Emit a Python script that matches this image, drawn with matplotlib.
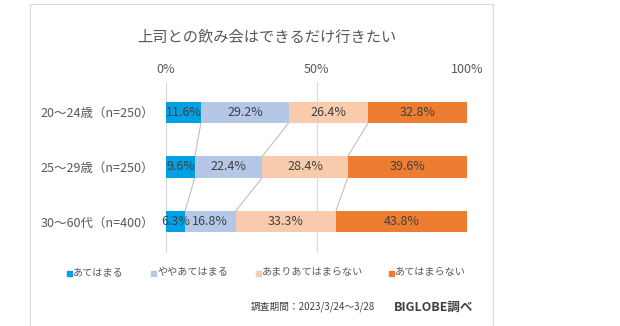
import numpy as np
import matplotlib.pyplot as plt
from matplotlib.patches import Rectangle

plt.rcParams['font.family'] = ['Noto Sans CJK JP', 'DejaVu Sans']

title = "上司との飲み会はできるだけ行きたい"
groups = ["20～24歳（n=250）", "25～29歳（n=250）", "30～60代（n=400）"]
answers = ["あてはまる", "ややあてはまる", "あまりあてはまらない", "あてはまらない"]
values = [
    [11.6, 29.2, 26.4, 32.8],
    [9.6, 22.4, 28.4, 39.6],
    [6.3, 16.8, 33.3, 43.8],
]
colors = ["#00A0E4", "#B4C7E7", "#F8CBAD", "#ED7D31"]
footer = "調査期間：2023/3/24～3/28"
source = "BIGLOBE調べ"

W, H = 620, 326
fig = plt.figure(figsize=(W / 100, H / 100), dpi=100)

# outer frame
fig.patches.append(Rectangle((30 / W, -0.01), (493 - 30) / W, (H - 4) / H + 0.01,
                             transform=fig.transFigure, fill=False,
                             edgecolor="#D9D9D9", linewidth=0.8))

ax = fig.add_axes([166 / W, 1 - 253 / H, (467 - 166) / W, (253 - 82) / H])
vals = np.array(values)
n = len(groups)
ypos = np.arange(n)
bar_h = 0.385
left = np.zeros(n)
for j, name in enumerate(answers):
    ax.barh(ypos, vals[:, j], left=left, height=bar_h, color=colors[j],
            label=name, zorder=2)
    for i in range(n):
        ax.text(left[i] + vals[i, j] / 2, ypos[i], f"{vals[i, j]:.1f}%",
                ha="center", va="center", fontsize=9, color="#404040", zorder=3)
    left = left + vals[:, j]

# series lines between bars
cum = np.cumsum(vals, axis=1)
for j in range(3):
    for i in range(n - 1):
        ax.plot([cum[i, j], cum[i + 1, j]], [ypos[i] + bar_h / 2, ypos[i + 1] - bar_h / 2],
                color="#BFBFBF", linewidth=0.8, zorder=1)

ax.set_xlim(0, 100)
ax.set_ylim(n - 0.5 + 0.07, -0.5 - 0.05)
ax.set_xticks([0, 50, 100])
ax.set_xticklabels(["0%", "50%", "100%"])
ax.xaxis.tick_top()
ax.tick_params(axis="x", length=0, pad=4, labelsize=9, labelcolor="#595959")
ax.set_yticks(ypos)
ax.set_yticklabels(groups)
ax.tick_params(axis="y", length=0, pad=8.5, labelsize=9, labelcolor="#595959")
ax.grid(axis="x", color="#D9D9D9", linewidth=0.8, zorder=0)
for s in ax.spines.values():
    s.set_visible(False)

fig.text(267 / W, 1 - 37 / H, title, ha="center", va="center", fontsize=11, color="#595959")

leg_x = [67, 151, 256, 389]
for j, name in enumerate(answers):
    fig.patches.append(Rectangle((leg_x[j] / W, 1 - 276 / H), 5 / W, 5 / H,
                                 transform=fig.transFigure, color=colors[j]))
    fig.text((leg_x[j] + 6) / W, 1 - 272 / H, name, ha="left", va="center",
             fontsize=7.3, color="#595959")

fig.text(375 / W, 1 - 307 / H, footer, ha="right", va="center", fontsize=7, color="#404040")
fig.text(473 / W, 1 - 307 / H, source, ha="right", va="center", fontsize=9,
         fontweight="bold", color="#404040")

fig.savefig("out.png", dpi=100, facecolor="white")
